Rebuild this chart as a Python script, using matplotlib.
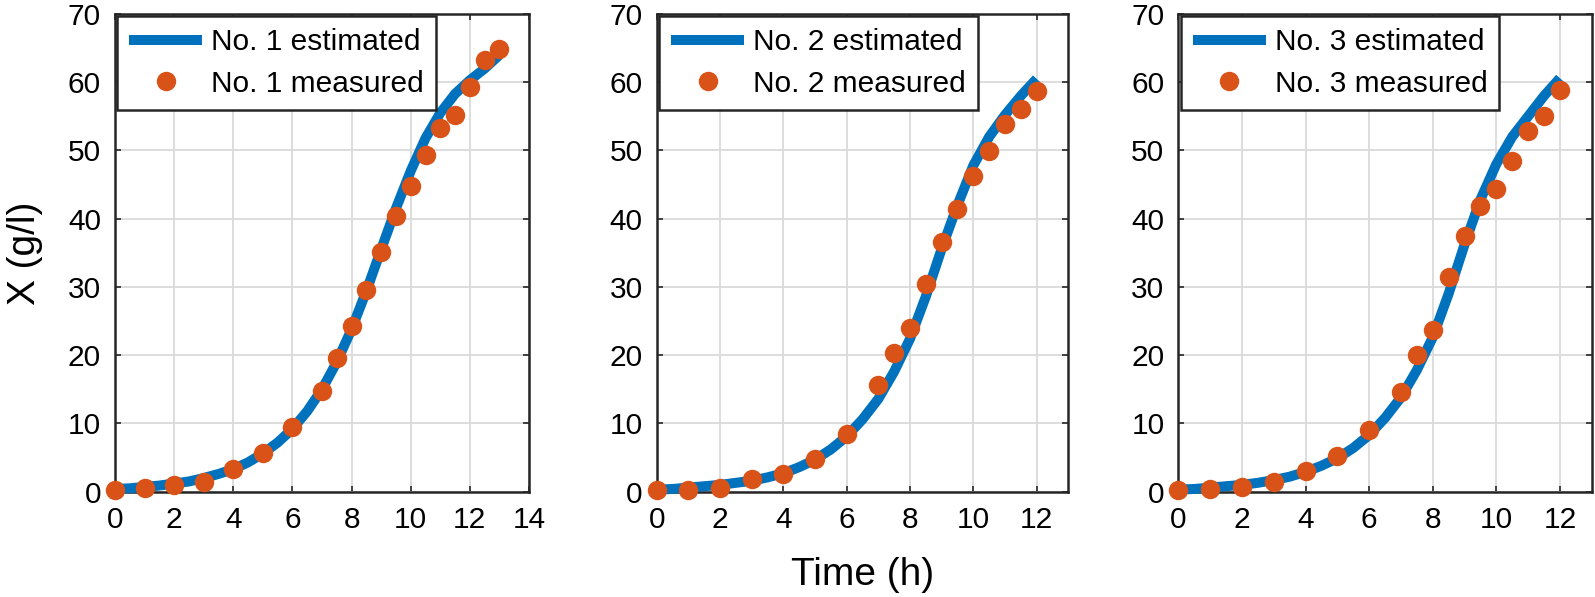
import matplotlib
matplotlib.use("Agg")
import matplotlib.pyplot as plt

plt.rcParams['font.family'] = ['Liberation Sans', 'DejaVu Sans']

# ---------------- data ----------------
t_est1 = [0, 0.5, 1, 1.5, 2, 2.5, 3, 3.5, 4, 4.5, 5, 5.5, 6, 6.5, 7, 7.5, 8, 8.5,
          9, 9.5, 10, 10.5, 11, 11.5, 12, 12.5, 13]
x_est1 = [0.4, 0.5, 0.7, 0.9, 1.2, 1.5, 2.0, 2.6, 3.3, 4.3, 5.6, 7.2, 9.2, 11.8,
          15.0, 19.0, 23.8, 29.4, 35.5, 41.5, 47.0, 51.8, 55.5, 58.3, 60.3, 62.0, 64.0]
t_meas1 = [0, 1, 2, 3, 4, 5, 6, 7, 7.5, 8, 8.5, 9, 9.5, 10, 10.5, 11, 11.5, 12, 12.5, 13]
x_meas1 = [0.2, 0.6, 1.0, 1.4, 3.3, 5.7, 9.5, 14.8, 19.6, 24.3, 29.6, 35.15, 40.4,
           44.8, 49.3, 53.35, 55.2, 59.3, 63.3, 64.9]

t_est2 = [0, 0.5, 1, 1.5, 2, 2.5, 3, 3.5, 4, 4.5, 5, 5.5, 6, 6.5, 7, 7.5, 8, 8.5,
          9, 9.5, 10, 10.5, 11, 11.5, 12]
x_est2 = [0.3, 0.4, 0.6, 0.8, 1.0, 1.3, 1.6, 2.1, 2.7, 3.6, 4.7, 6.2, 8.1, 10.6,
          13.6, 17.6, 22.4, 28.6, 35.6, 42.0, 47.8, 52.0, 55.2, 58.0, 60.5]
t_meas2 = [0, 1, 2, 3, 4, 5, 6, 7, 7.5, 8, 8.5, 9, 9.5, 10, 10.5, 11, 11.5, 12]
x_meas2 = [0.25, 0.25, 0.6, 1.8, 2.6, 4.8, 8.5, 15.7, 20.3, 24.0, 30.4, 36.6, 41.4,
           46.2, 49.9, 53.9, 56.1, 58.7]

t_est3 = [0, 0.5, 1, 1.5, 2, 2.5, 3, 3.5, 4, 4.5, 5, 5.5, 6, 6.5, 7, 7.5, 8, 8.5,
          9, 9.5, 10, 10.5, 11, 11.5, 12]
x_est3 = [0.3, 0.4, 0.6, 0.8, 1.0, 1.3, 1.7, 2.2, 2.9, 3.8, 4.9, 6.4, 8.3, 10.8,
          13.8, 17.8, 22.6, 29.0, 36.2, 42.8, 48.0, 52.0, 55.0, 58.0, 60.6]
t_meas3 = [0, 1, 2, 3, 4, 5, 6, 7, 7.5, 8, 8.5, 9, 9.5, 10, 10.5, 11, 11.5, 12]
x_meas3 = [0.2, 0.35, 0.7, 1.4, 3.0, 5.2, 9.05, 14.6, 20.0, 23.7, 31.5, 37.4, 41.8,
           44.4, 48.5, 52.9, 55.1, 58.9]

labels_est = ["No. 1 estimated", "No. 2 estimated", "No. 3 estimated"]
labels_meas = ["No. 1 measured", "No. 2 measured", "No. 3 measured"]
xlims = [14, 13, 13]
xticks = [[0, 2, 4, 6, 8, 10, 12, 14], [0, 2, 4, 6, 8, 10, 12], [0, 2, 4, 6, 8, 10, 12]]
yticks = [0, 10, 20, 30, 40, 50, 60, 70]

# ---------------- figure ----------------
W, H = 1595, 597
fig = plt.figure(figsize=(W / 100, H / 100), dpi=100)

lefts = [115, 656.7, 1178.3]
widths = [414, 411.6, 413.4]
top_px, bot_px = 14, 491.7

BLUE = '#0072BD'
ORANGE = '#D95319'
FS = 21.5

series = [(t_est1, x_est1, t_meas1, x_meas1),
          (t_est2, x_est2, t_meas2, x_meas2),
          (t_est3, x_est3, t_meas3, x_meas3)]

axes = []
for i in range(3):
    ax = fig.add_axes([lefts[i] / W, 1 - bot_px / H, widths[i] / W, (bot_px - top_px) / H])
    te, xe, tm, xm = series[i]
    ax.plot(te, xe, color=BLUE, lw=7.2, solid_capstyle='butt', label=labels_est[i],
            zorder=3, clip_on=False)
    ax.plot(tm, xm, linestyle='none', marker='o', markersize=14, color=ORANGE,
            markeredgewidth=0, label=labels_meas[i], zorder=4, clip_on=False)
    ax.set_xlim(0, xlims[i])
    ax.set_ylim(0, 70)
    ax.set_xticks(xticks[i])
    ax.set_yticks(yticks)
    ax.grid(True, color='#dadada', lw=1.3, zorder=0)
    ax.set_axisbelow(True)
    ax.tick_params(axis='both', direction='in', length=4, width=1.2, labelsize=FS,
                   top=True, right=True, color='#262626')
    ax.tick_params(axis='x', pad=10)
    ax.tick_params(axis='y', pad=10)
    for s in ax.spines.values():
        s.set_linewidth(1.8)
        s.set_color('#262626')
    leg = ax.legend(loc='upper left', fontsize=FS, frameon=True, fancybox=False,
                    edgecolor='#262626', framealpha=1, borderaxespad=0.08,
                    handlelength=2.45, handletextpad=0.3, borderpad=0.4,
                    labelspacing=0.45, numpoints=1)
    leg.get_frame().set_linewidth(1.8)
    leg.set_zorder(10)
    axes.append(ax)

axes[0].set_ylabel("X (g/l)", fontsize=28, labelpad=18)
axes[1].set_xlabel("Time (h)", fontsize=28, labelpad=17)

fig.savefig("out.png", dpi=100)
